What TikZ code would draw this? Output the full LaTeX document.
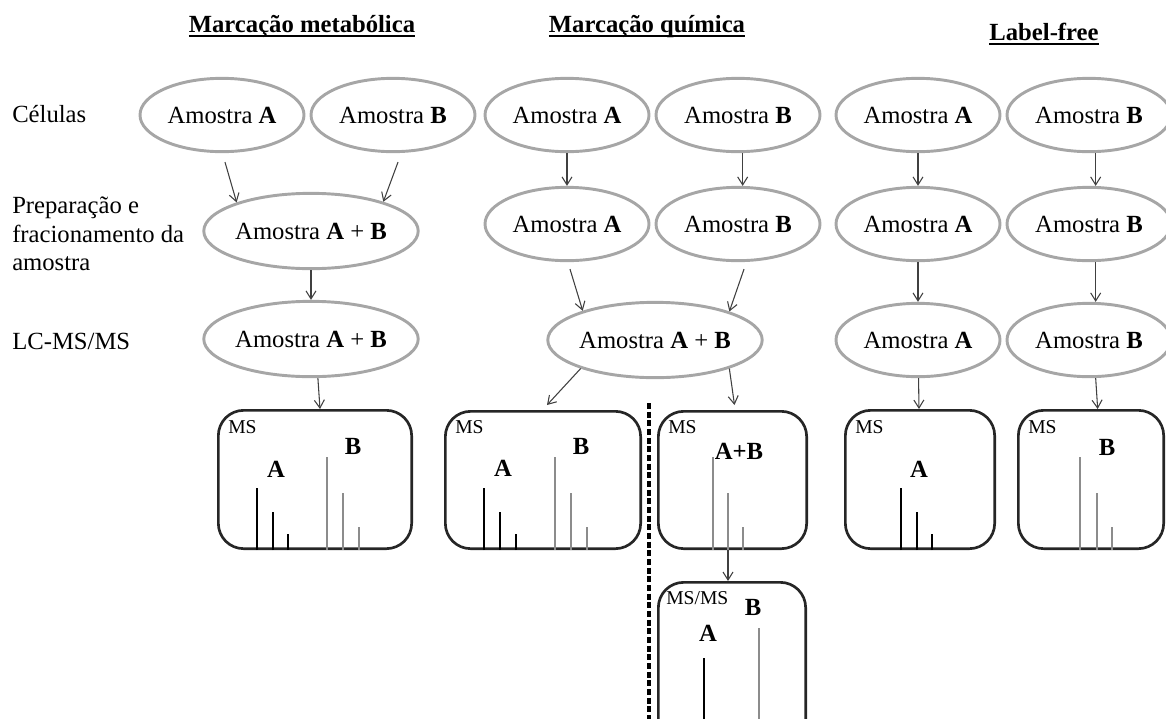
\documentclass[tikz,border=0pt]{standalone}
\usepackage{fontspec}
\setmainfont{Liberation Serif}
\usetikzlibrary{shapes,arrows.meta,positioning,calc}
\definecolor{ellgray}{HTML}{A6A6A6}
\definecolor{peakgray}{HTML}{8C8C8C}
\definecolor{arrgray}{HTML}{404040}
\definecolor{boxblack}{HTML}{262626}
\newcommand{\ulhead}[1]{\setbox0\hbox{#1}\rlap{\rule[-4pt]{\wd0}{1.4pt}}\box0}
\tikzstyle{heading} = [anchor=base,inner sep=0pt]
\tikzstyle{stage} = [anchor=west,align=left,inner sep=0pt]
\tikzstyle{sample} = [draw=ellgray,line width=2.2pt,ellipse,minimum width=123pt,minimum height=55pt,inner sep=0pt]
\tikzstyle{pooled} = [sample,minimum width=154pt,minimum height=56.5pt]
\tikzstyle{msbox} = [draw=boxblack,line width=2pt,rectangle,rounded corners=19pt]
\tikzstyle{spec} = [anchor=west,inner sep=0pt,font=\fontsize{14.7}{17}\selectfont]
\tikzstyle{peaklbl} = [inner sep=0pt,font=\fontsize{18.5}{22}\selectfont\bfseries]
\tikzstyle{peakA} = [draw=black,line width=2.2pt]
\tikzstyle{peakB} = [draw=peakgray,line width=2pt]
\tikzstyle{divider} = [draw=black,line width=2.6pt,dash pattern=on 4.5pt off 2pt]
\tikzstyle{link} = [->,draw=arrgray,line width=0.8pt]

\begin{document}
\begin{tikzpicture}[x=0.75pt,y=-0.75pt,node distance=81.75pt,
  font=\fontsize{18.5}{21.5}\selectfont,>={Straight Barb[length=6pt,width=7.5pt]}]
  \useasboundingbox (0,0) rectangle (1166,718);

  %titles
  \node[heading] (tmeta) at (302,32) {\ulhead{\bfseries Marcação metabólica}};
  \node[heading] (tquim) at (647,32) {\ulhead{\bfseries Marcação química}};
  \node[heading] (tfree) at (1044,40) {\ulhead{\bfseries Label-free}};

  %stages
  \node[stage] (scel) at (12,114) {Células};
  \node[stage] (sprep) at (12,234) {Preparação e\\fracionamento da\\amostra};
  \node[stage] (slc) at (12,341) {LC-MS/MS};

  %metabolic
  \node[sample] (mA1) at (222,115) {Amostra \textbf{A}};
  \node[sample] (mB1) at (393,115) {Amostra \textbf{B}};
  \node[pooled] (mAB2) at (311,231) {Amostra \textbf{A} + \textbf{B}};
  \node[pooled] (mAB3) at (311,339) {Amostra \textbf{A} + \textbf{B}};

  %chemical
  \node[sample] (qA1) at (567,115) {Amostra \textbf{A}};
  \node[sample] (qB1) at (738,115) {Amostra \textbf{B}};
  \node[sample,below of=qA1] (qA2) {Amostra \textbf{A}};
  \node[sample,below of=qB1] (qB2) {Amostra \textbf{B}};
  \node[pooled,minimum width=152pt] (qAB3) at (655,340) {Amostra \textbf{A} + \textbf{B}};

  %label-free
  \node[sample] (lA1) at (918,115) {Amostra \textbf{A}};
  \node[sample] (lB1) at (1089,115) {Amostra \textbf{B}};
  \node[sample,below of=lA1] (lA2) {Amostra \textbf{A}};
  \node[sample,below of=lB1] (lB2) {Amostra \textbf{B}};
  \node[sample,below of=lA2,node distance=87pt] (lA3) {Amostra \textbf{A}};
  \node[sample,below of=lB2,node distance=87pt] (lB3) {Amostra \textbf{B}};

  %spectra boxes
  \node[msbox,minimum width=145pt,minimum height=103.75pt] (ms1) at (315,479.5) {};
  \node[msbox,minimum width=146.5pt,minimum height=103pt] (qms1) at (543,480) {};
  \node[msbox,minimum width=111.25pt,minimum height=103pt] (qms2) at (732.5,480) {};
  \node[msbox,minimum width=110.5pt,minimum height=124.75pt] (msms) at (732,665.5) {};
  \node[msbox,minimum width=112pt,minimum height=103.75pt] (lmsA) at (920,479.5) {};
  \node[msbox,minimum width=109pt,minimum height=103.75pt] (lmsB) at (1091,479.5) {};

  %peaks
  \foreach \px/\py in {257/488,273/512,288/534,484/488,500/512,516/534,901/488,917/512,932/534}
    \draw[peakA] (\px,550) -- (\px,\py);
  \foreach \px/\py in {327/457,343/493,359/527,555/457,571/493,587/527,713/457,728/493,743/527,1080/457,1097/493,1112/527}
    \draw[peakB] (\px,550) -- (\px,\py);
  \draw[peakA] (704,750) -- (704,658);
  \draw[peakB] (759,750) -- (759,628);

  %box labels
  \node[spec] (ms1l) at (228,427) {MS};
  \node[spec] (qms1l) at (455,427) {MS};
  \node[spec] (qms2l) at (668,427) {MS};
  \node[spec] (lmsAl) at (855,427) {MS};
  \node[spec] (lmsBl) at (1028,427) {MS};
  \node[spec] (msmsl) at (666,598) {MS/MS};
  \node[peaklbl] (pA1) at (276,469) {A};
  \node[peaklbl] (pB1) at (353,446) {B};
  \node[peaklbl] (pA2) at (503,468) {A};
  \node[peaklbl] (pB2) at (581,446) {B};
  \node[peaklbl] (pAB) at (739,451) {A+B};
  \node[peaklbl] (pA3) at (919,469) {A};
  \node[peaklbl] (pB3) at (1107,447) {B};
  \node[peaklbl] (pA4) at (708,633) {A};
  \node[peaklbl] (pB4) at (753,607) {B};

  %divider
  \coordinate (divtop) at (649,403);
  \coordinate (divbot) at (649,725);
  \draw[divider] (divtop) -- (divbot);

  %metabolic arrows
  \draw [link] ($(mA1.south)+(3,9)$) -- (mAB2.159);
  \draw [link] ($(mB1.south)+(5,9)$) -- (mAB2.22);
  \draw [link] (mAB2) -- (mAB3);
  \draw [link] (mAB3.-80) -- ($(ms1.north)+(5,0)$);

  %chemical arrows
  \draw [link] (qA1) -- (qA2);
  \draw [link] ([xshift=3.5pt]qB1.south) -- ([xshift=3.5pt]qB2.north);
  \draw [link] ($(qA2.south)+(3,7)$) -- (qAB3.158);
  \draw [link] ($(qB2.south)+(6,7)$) -- (qAB3.21);
  \draw [link] (qAB3.201) -- ($(qms1.north)+(4,-5)$);
  \draw [link] (qAB3.-21) -- ($(qms2.north)+(2,-5)$);
  \draw [link] ($(qms2.south)+(-4.5,0)$) -- ($(msms.north)+(-4,0)$);

  %label-free arrows
  \draw [link] (lA1) -- (lA2);
  \draw [link] (lA2) -- (lA3);
  \draw [link] (lA3) -- (lmsA);
  \draw [link] ([xshift=5pt]lB1.south) -- ([xshift=5pt]lB2.north);
  \draw [link] ([xshift=5pt]lB2.south) -- ([xshift=5pt]lB3.north);
  \draw [link] ([xshift=5pt]lB3.south) -- ([xshift=5pt]lmsB.north);

\end{tikzpicture}
\end{document}
